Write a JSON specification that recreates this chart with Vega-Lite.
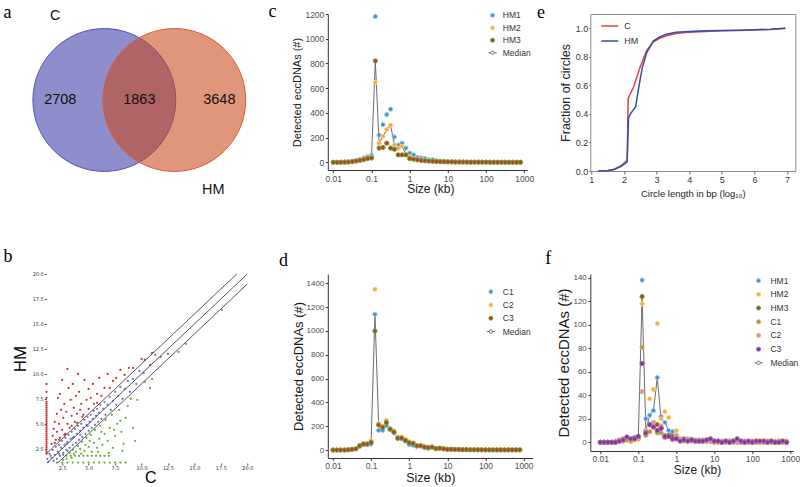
{
"$schema":"https://vega.github.io/schema/vega-lite/v6.json",
"background":"white",
"padding":{"left":3.3,"top":3,"right":0,"bottom":0},
"columns":3,
"align":"each",
"bounds":"flush",
"spacing":{"row":103,"column":57.5},
"resolve":{"scale":{"fill":"independent","stroke":"independent","shape":"independent","color":"independent"},"legend":{"fill":"independent","stroke":"independent","shape":"independent","color":"independent"}},
"config":{"view":{"stroke":null},"axis":{"grid":false,"labelOverlap":false,"labelFlush":false},"font":"Liberation Sans","title":{"font":"Liberation Serif","fontSize":18,"fontWeight":"normal","anchor":"start","frame":"group","offset":0,"baseline":"alphabetic","color":"#000000"}},
"concat":[
{
"width":224,"height":155,
"title":{"text":"a","dx":-42.7,"dy":18.25},
"layer":[
{"data":{"values":[{"set":"C","cx":0,"cy":0},{"set":"HM","cx":1,"cy":0}]},
"mark":{"type":"point","shape":"circle","filled":true,"size":20400,"fillOpacity":0.57,"strokeWidth":1,"strokeOpacity":1,"opacity":1},
"encoding":{"x":{"field":"cx","type":"quantitative","scale":{"domain":[-0.829,2.371],"nice":false,"zero":false},"axis":null},
"y":{"field":"cy","type":"quantitative","scale":{"domain":[-0.9857,1.2286],"nice":false,"zero":false},"axis":null},
"fill":{"field":"set","type":"nominal","scale":{"domain":["C","HM"],"range":["#3939A6","#C94716"]},"legend":null},
"stroke":{"field":"set","type":"nominal","scale":{"domain":["C","HM"],"range":["#5050B8","#DC5A34"]},"legend":null}}},
{"data":{"values":[{"t":"2708","cx":-0.629,"cy":0},{"t":"1863","cx":0.5,"cy":0},{"t":"3648","cx":1.643,"cy":0},{"t":"C","cx":-0.7,"cy":1.2},{"t":"HM","cx":1.557,"cy":-1.286}]},
"mark":{"type":"text","font":"Liberation Sans","fontSize":14.5,"color":"#111111"},
"encoding":{"x":{"field":"cx","type":"quantitative"},"y":{"field":"cy","type":"quantitative"},"text":{"field":"t","type":"nominal"}}}
]
},
{
"width":199.5,"height":156,
"title":{"text":"c","dx":-59.2,"dy":15.25},
"data":{"values":[
{"k":0.01,"s":"HM1","v":0},{"k":0.0126,"s":"HM1","v":0},{"k":0.0158,"s":"HM1","v":1},{"k":0.02,"s":"HM1","v":2},{"k":0.0251,"s":"HM1","v":4},{"k":0.0316,"s":"HM1","v":8},{"k":0.0398,"s":"HM1","v":15},{"k":0.0501,"s":"HM1","v":25},{"k":0.0631,"s":"HM1","v":35},{"k":0.0794,"s":"HM1","v":45},
{"k":0.1,"s":"HM1","v":55},{"k":0.126,"s":"HM1","v":1180},{"k":0.158,"s":"HM1","v":220},{"k":0.2,"s":"HM1","v":305},{"k":0.251,"s":"HM1","v":385},{"k":0.316,"s":"HM1","v":430},{"k":0.398,"s":"HM1","v":205},{"k":0.501,"s":"HM1","v":140},{"k":0.631,"s":"HM1","v":155},{"k":0.794,"s":"HM1","v":115},
{"k":1,"s":"HM1","v":75},{"k":1.26,"s":"HM1","v":60},{"k":1.58,"s":"HM1","v":40},{"k":2,"s":"HM1","v":35},{"k":2.51,"s":"HM1","v":30},{"k":3.16,"s":"HM1","v":20},{"k":3.98,"s":"HM1","v":22},{"k":5.01,"s":"HM1","v":12},{"k":6.31,"s":"HM1","v":10},{"k":7.94,"s":"HM1","v":8},
{"k":10,"s":"HM1","v":6},{"k":12.6,"s":"HM1","v":5},{"k":15.8,"s":"HM1","v":4},{"k":20,"s":"HM1","v":4},{"k":25.1,"s":"HM1","v":3},{"k":31.6,"s":"HM1","v":3},{"k":39.8,"s":"HM1","v":2},{"k":50.1,"s":"HM1","v":2},{"k":63.1,"s":"HM1","v":2},{"k":79.4,"s":"HM1","v":2},
{"k":100,"s":"HM1","v":2},{"k":126,"s":"HM1","v":1},{"k":158,"s":"HM1","v":1},{"k":200,"s":"HM1","v":1},{"k":251,"s":"HM1","v":1},{"k":316,"s":"HM1","v":1},{"k":398,"s":"HM1","v":1},{"k":501,"s":"HM1","v":1},{"k":631,"s":"HM1","v":1},{"k":794,"s":"HM1","v":1},
{"k":0.01,"s":"HM2","v":0},{"k":0.0126,"s":"HM2","v":0},{"k":0.0158,"s":"HM2","v":0},{"k":0.02,"s":"HM2","v":1},{"k":0.0251,"s":"HM2","v":3},{"k":0.0316,"s":"HM2","v":6},{"k":0.0398,"s":"HM2","v":10},{"k":0.0501,"s":"HM2","v":18},{"k":0.0631,"s":"HM2","v":25},{"k":0.0794,"s":"HM2","v":35},
{"k":0.1,"s":"HM2","v":40},{"k":0.126,"s":"HM2","v":645},{"k":0.158,"s":"HM2","v":155},{"k":0.2,"s":"HM2","v":210},{"k":0.251,"s":"HM2","v":265},{"k":0.316,"s":"HM2","v":300},{"k":0.398,"s":"HM2","v":140},{"k":0.501,"s":"HM2","v":115},{"k":0.631,"s":"HM2","v":130},{"k":0.794,"s":"HM2","v":65},
{"k":1,"s":"HM2","v":45},{"k":1.26,"s":"HM2","v":30},{"k":1.58,"s":"HM2","v":25},{"k":2,"s":"HM2","v":20},{"k":2.51,"s":"HM2","v":15},{"k":3.16,"s":"HM2","v":12},{"k":3.98,"s":"HM2","v":10},{"k":5.01,"s":"HM2","v":8},{"k":6.31,"s":"HM2","v":6},{"k":7.94,"s":"HM2","v":5},
{"k":10,"s":"HM2","v":4},{"k":12.6,"s":"HM2","v":3},{"k":15.8,"s":"HM2","v":3},{"k":20,"s":"HM2","v":2},{"k":25.1,"s":"HM2","v":2},{"k":31.6,"s":"HM2","v":2},{"k":39.8,"s":"HM2","v":1},{"k":50.1,"s":"HM2","v":1},{"k":63.1,"s":"HM2","v":1},{"k":79.4,"s":"HM2","v":1},
{"k":100,"s":"HM2","v":1},{"k":126,"s":"HM2","v":1},{"k":158,"s":"HM2","v":1},{"k":200,"s":"HM2","v":1},{"k":251,"s":"HM2","v":0},{"k":316,"s":"HM2","v":0},{"k":398,"s":"HM2","v":0},{"k":501,"s":"HM2","v":0},{"k":631,"s":"HM2","v":0},{"k":794,"s":"HM2","v":0},
{"k":0.01,"s":"HM3","v":0},{"k":0.0126,"s":"HM3","v":0},{"k":0.0158,"s":"HM3","v":0},{"k":0.02,"s":"HM3","v":1},{"k":0.0251,"s":"HM3","v":2},{"k":0.0316,"s":"HM3","v":5},{"k":0.0398,"s":"HM3","v":10},{"k":0.0501,"s":"HM3","v":15},{"k":0.0631,"s":"HM3","v":22},{"k":0.0794,"s":"HM3","v":30},
{"k":0.1,"s":"HM3","v":35},{"k":0.126,"s":"HM3","v":820},{"k":0.158,"s":"HM3","v":115},{"k":0.2,"s":"HM3","v":120},{"k":0.251,"s":"HM3","v":155},{"k":0.316,"s":"HM3","v":115},{"k":0.398,"s":"HM3","v":105},{"k":0.501,"s":"HM3","v":60},{"k":0.631,"s":"HM3","v":60},{"k":0.794,"s":"HM3","v":60},
{"k":1,"s":"HM3","v":30},{"k":1.26,"s":"HM3","v":25},{"k":1.58,"s":"HM3","v":20},{"k":2,"s":"HM3","v":15},{"k":2.51,"s":"HM3","v":12},{"k":3.16,"s":"HM3","v":10},{"k":3.98,"s":"HM3","v":8},{"k":5.01,"s":"HM3","v":6},{"k":6.31,"s":"HM3","v":5},{"k":7.94,"s":"HM3","v":4},
{"k":10,"s":"HM3","v":3},{"k":12.6,"s":"HM3","v":3},{"k":15.8,"s":"HM3","v":2},{"k":20,"s":"HM3","v":2},{"k":25.1,"s":"HM3","v":2},{"k":31.6,"s":"HM3","v":1},{"k":39.8,"s":"HM3","v":1},{"k":50.1,"s":"HM3","v":1},{"k":63.1,"s":"HM3","v":1},{"k":79.4,"s":"HM3","v":1},
{"k":100,"s":"HM3","v":1},{"k":126,"s":"HM3","v":0},{"k":158,"s":"HM3","v":0},{"k":200,"s":"HM3","v":0},{"k":251,"s":"HM3","v":0},{"k":316,"s":"HM3","v":0},{"k":398,"s":"HM3","v":0},{"k":501,"s":"HM3","v":0},{"k":631,"s":"HM3","v":0},{"k":794,"s":"HM3","v":0}
]},
"encoding":{"x":{"field":"k","type":"quantitative","scale":{"type":"log","domain":[0.00718,1199],"nice":false},"axis":{"values":[0.01,0.1,1,10,100,1000],"format":"~g","domainColor":"#333333","tickColor":"#333333","tickSize":2.5,"labelFont":"Liberation Sans","labelFontSize":8.5,"labelColor":"#4D4D4D","labelPadding":1.5,"labelFlush":false,"labelOverlap":false,"title":"Size (kb)","titleFont":"Liberation Sans","titleFontSize":12,"titleFontWeight":"normal","titleColor":"#1A1A1A","titlePadding":1,"titleX":102.5}},
"y":{"field":"v","type":"quantitative","scale":{"domain":[-62.3,1200],"nice":false,"zero":false},"axis":{"values":[0,200,400,600,800,1000,1200],"format":"d","domainColor":"#333333","tickColor":"#333333","tickSize":2.5,"labelFont":"Liberation Sans","labelFontSize":8.5,"labelColor":"#4D4D4D","labelPadding":1.5,"labelOverlap":false,"title":"Detected eccDNAs (#)","titleFont":"Liberation Sans","titleFontSize":11,"titleFontWeight":"normal","titleColor":"#1A1A1A","titlePadding":2}}},
"layer":[
{"transform":[{"aggregate":[{"op":"median","field":"v","as":"v"}],"groupby":["k"]}],
"mark":{"type":"line","color":"#6b6b6b","strokeWidth":1}},
{"mark":{"type":"point","filled":true,"size":18,"strokeWidth":1,"opacity":1},
"encoding":{
"fill":{"field":"s","type":"nominal","scale":{"domain":["HM1","HM2","HM3","Median"],"range":["#3D8FD1","#F6A83A","#D62F1F","#FFFFFF"]},"legend":{"title":null,"orient":"none","legendX":160.5,"legendY":-3,"padding":0,"symbolSize":16,"symbolStrokeWidth":1,"symbolOpacity":1,"labelFont":"Liberation Sans","labelFontSize":8.5,"labelColor":"#333333","labelOffset":6,"rowPadding":3.5}},
"stroke":{"field":"s","type":"nominal","scale":{"domain":["HM1","HM2","HM3","Median"],"range":["#9BC8EC","#FBD08A","#52AC3C","#666666"]},"legend":{"title":null,"orient":"none","legendX":160.5,"legendY":-3,"padding":0,"symbolSize":16,"symbolStrokeWidth":1,"symbolOpacity":1,"labelFont":"Liberation Sans","labelFontSize":8.5,"labelColor":"#333333","labelOffset":6,"rowPadding":3.5}},
"shape":{"field":"s","type":"nominal","scale":{"domain":["HM1","HM2","HM3","Median"],"range":["circle","circle","circle","M-2,0L-0.85,0M0.85,0L2,0M0.85,0A0.85,0.85 0 1 1 -0.85,0A0.85,0.85 0 1 1 0.85,0"]},"legend":{"title":null,"orient":"none","legendX":160.5,"legendY":-3,"padding":0,"symbolSize":16,"symbolStrokeWidth":1,"symbolOpacity":1,"labelFont":"Liberation Sans","labelFontSize":8.5,"labelColor":"#333333","labelOffset":6,"rowPadding":3.5}}}}
]
},
{
"width":205,"height":157,
"view":{"stroke":"#8c8c8c","strokeWidth":1},
"title":{"text":"e","dx":-53.3,"dy":11.5},
"data":{"values":[
{"g":"C","L":1.22,"f":0},{"g":"C","L":1.5,"f":0.003},{"g":"C","L":1.7,"f":0.012},{"g":"C","L":1.9,"f":0.035},{"g":"C","L":2.05,"f":0.065},{"g":"C","L":2.1,"f":0.08},{"g":"C","L":2.13,"f":0.51},{"g":"C","L":2.3,"f":0.59},{"g":"C","L":2.5,"f":0.73},{"g":"C","L":2.7,"f":0.845},{"g":"C","L":2.9,"f":0.905},{"g":"C","L":3.1,"f":0.93},{"g":"C","L":3.3,"f":0.948},{"g":"C","L":3.6,"f":0.963},{"g":"C","L":4,"f":0.973},{"g":"C","L":4.5,"f":0.978},{"g":"C","L":5,"f":0.983},{"g":"C","L":5.5,"f":0.985},{"g":"C","L":6,"f":0.988},{"g":"C","L":6.5,"f":0.992},{"g":"C","L":6.95,"f":1.0},
{"g":"HM","L":1.22,"f":0},{"g":"HM","L":1.5,"f":0.002},{"g":"HM","L":1.7,"f":0.01},{"g":"HM","L":1.9,"f":0.03},{"g":"HM","L":2.05,"f":0.055},{"g":"HM","L":2.1,"f":0.065},{"g":"HM","L":2.14,"f":0.37},{"g":"HM","L":2.2,"f":0.4},{"g":"HM","L":2.36,"f":0.45},{"g":"HM","L":2.45,"f":0.58},{"g":"HM","L":2.56,"f":0.72},{"g":"HM","L":2.7,"f":0.83},{"g":"HM","L":2.9,"f":0.91},{"g":"HM","L":3.1,"f":0.94},{"g":"HM","L":3.3,"f":0.958},{"g":"HM","L":3.6,"f":0.972},{"g":"HM","L":4,"f":0.978},{"g":"HM","L":4.5,"f":0.982},{"g":"HM","L":5,"f":0.985},{"g":"HM","L":5.5,"f":0.987},{"g":"HM","L":6,"f":0.99},{"g":"HM","L":6.5,"f":0.994},{"g":"HM","L":6.95,"f":1.0}
]},
"mark":{"type":"line","strokeWidth":1.5},
"encoding":{"x":{"field":"L","type":"quantitative","scale":{"domain":[0.969,7.254],"nice":false,"zero":false},"axis":{"values":[1,2,3,4,5,6,7],"format":"d","domain":false,"tickColor":"#666666","tickSize":3,"labelFont":"Liberation Sans","labelFontSize":9,"labelColor":"#333333","labelPadding":1.5,"labelFlush":false,"title":"Circle length in bp (log₁₀)","titleFont":"Liberation Sans","titleFontSize":9.5,"titleFontWeight":"normal","titleColor":"#222222","titlePadding":4}},
"y":{"field":"f","type":"quantitative","scale":{"domain":[0,1.1],"nice":false,"zero":false},"axis":{"values":[0,0.2,0.4,0.6,0.8,1],"format":".1f","domain":false,"tickColor":"#666666","tickSize":1.5,"labelFont":"Liberation Sans","labelFontSize":9,"labelColor":"#333333","labelPadding":1,"title":"Fraction of circles","titleFont":"Liberation Sans","titleFontSize":12.5,"titleFontWeight":"normal","titleColor":"#222222","titlePadding":3}},
"color":{"field":"g","type":"nominal","scale":{"domain":["C","HM"],"range":["#E8413A","#2E4FB5"]},"legend":{"title":null,"orient":"none","legendX":10,"legendY":2.5,"padding":0,"symbolType":"stroke","symbolSize":289,"symbolStrokeWidth":1.5,"labelFont":"Liberation Sans","labelFontSize":9,"labelColor":"#333333","labelOffset":5,"rowPadding":0}}}
},
{
"width":224,"height":189,
"title":{"text":"b","dx":-42.7,"dy":-2.4},
"encoding":{"x":{"field":"x","type":"quantitative","scale":{"domain":[1,22.17],"nice":false,"zero":false},"axis":{"values":[2.5,5,7.5,10,12.5,15,17.5,20],"format":".1f","domain":false,"tickColor":"#444444","tickSize":2,"labelFont":"DejaVu Sans","labelFontSize":5,"labelColor":"#333333","labelPadding":1,"labelFlush":false,"labelOverlap":false,"title":"C","titleFont":"Liberation Sans","titleFontSize":16,"titleFontWeight":"normal","titleColor":"#000000","titleX":104,"titlePadding":-1}},
"y":{"field":"y","type":"quantitative","scale":{"domain":[1.08,20],"nice":false,"zero":false},"axis":{"values":[2.5,5,7.5,10,12.5,15,17.5,20],"format":".1f","domain":false,"tickColor":"#444444","tickSize":2,"labelFont":"DejaVu Sans","labelFontSize":5,"labelColor":"#333333","labelPadding":1,"labelOverlap":false,"title":"HM","titleFont":"Liberation Sans","titleFontSize":17,"titleFontWeight":"normal","titleColor":"#000000","titleY":84.5,"titlePadding":3}}},
"layer":[
{"data":{"values":[{}]},"mark":{"type":"rect","filled":false,"color":"#666666","strokeWidth":1},
"encoding":{"x":{"datum":1,"type":"quantitative"},"x2":{"datum":20},"y":{"datum":1.08,"type":"quantitative"},"y2":{"datum":20}}},
{"data":{"values":[
{"x":1.02,"y":2.0,"g":"u"},{"x":1.02,"y":2.2,"g":"u"},{"x":1.02,"y":2.4,"g":"u"},{"x":1.02,"y":2.6,"g":"u"},{"x":1.02,"y":2.8,"g":"u"},{"x":1.02,"y":3.0,"g":"u"},{"x":1.02,"y":3.2,"g":"u"},{"x":1.02,"y":3.4,"g":"u"},{"x":1.02,"y":3.6,"g":"u"},{"x":1.02,"y":3.8,"g":"u"},{"x":1.02,"y":4.0,"g":"u"},{"x":1.02,"y":4.2,"g":"u"},{"x":1.02,"y":4.4,"g":"u"},{"x":1.02,"y":4.6,"g":"u"},{"x":1.02,"y":4.8,"g":"u"},{"x":1.02,"y":5.0,"g":"u"},{"x":1.02,"y":5.2,"g":"u"},{"x":1.02,"y":5.4,"g":"u"},{"x":1.02,"y":5.6,"g":"u"},{"x":1.02,"y":5.8,"g":"u"},{"x":1.02,"y":6.0,"g":"u"},{"x":1.02,"y":6.2,"g":"u"},{"x":1.02,"y":6.4,"g":"u"},{"x":1.02,"y":6.6,"g":"u"},{"x":1.02,"y":6.8,"g":"u"},{"x":1.02,"y":7.0,"g":"u"},{"x":1.02,"y":7.2,"g":"u"},{"x":1.02,"y":7.6,"g":"u"},{"x":1.02,"y":8.2,"g":"u"},{"x":1.02,"y":9.0,"g":"u"},
{"x":1.5,"y":3.0,"g":"u"},{"x":1.6,"y":3.8,"g":"u"},{"x":1.7,"y":4.5,"g":"u"},{"x":1.8,"y":5.2,"g":"u"},{"x":1.9,"y":3.4,"g":"u"},{"x":2.0,"y":6.0,"g":"u"},{"x":2.0,"y":4.2,"g":"u"},{"x":2.1,"y":7.6,"g":"u"},{"x":2.2,"y":5.0,"g":"u"},{"x":2.3,"y":3.6,"g":"u"},{"x":2.3,"y":8.0,"g":"u"},{"x":2.4,"y":6.4,"g":"u"},{"x":2.5,"y":4.4,"g":"u"},{"x":2.5,"y":9.4,"g":"u"},{"x":2.6,"y":5.6,"g":"u"},{"x":2.7,"y":7.0,"g":"u"},{"x":2.8,"y":4.0,"g":"u"},{"x":2.9,"y":6.2,"g":"u"},{"x":3.0,"y":10.5,"g":"u"},{"x":3.0,"y":5.0,"g":"u"},{"x":3.1,"y":8.6,"g":"u"},{"x":3.2,"y":4.6,"g":"u"},{"x":3.3,"y":7.4,"g":"u"},{"x":3.4,"y":5.8,"g":"u"},{"x":3.5,"y":9.0,"g":"u"},{"x":3.6,"y":6.6,"g":"u"},{"x":3.7,"y":5.2,"g":"u"},{"x":3.8,"y":7.8,"g":"u"},{"x":3.9,"y":6.0,"g":"u"},{"x":4.0,"y":10.0,"g":"u"},{"x":4.1,"y":8.2,"g":"u"},{"x":4.2,"y":6.4,"g":"u"},{"x":4.3,"y":7.0,"g":"u"},{"x":4.5,"y":5.9,"g":"u"},{"x":4.6,"y":9.4,"g":"u"},{"x":4.8,"y":7.4,"g":"u"},{"x":5.0,"y":8.5,"g":"u"},{"x":5.0,"y":6.5,"g":"u"},{"x":5.2,"y":7.6,"g":"u"},{"x":5.4,"y":9.0,"g":"u"},{"x":5.5,"y":7.0,"g":"u"},{"x":5.8,"y":8.0,"g":"u"},{"x":6.0,"y":9.6,"g":"u"},{"x":6.2,"y":7.8,"g":"u"},{"x":6.5,"y":8.6,"g":"u"},{"x":6.8,"y":10.0,"g":"u"},{"x":7.0,"y":8.6,"g":"u"},{"x":7.3,"y":9.3,"g":"u"},{"x":7.6,"y":9.6,"g":"u"},{"x":8.0,"y":10.4,"g":"u"},{"x":8.4,"y":9.9,"g":"u"},{"x":8.8,"y":10.6,"g":"u"},{"x":9.2,"y":10.6,"g":"u"},{"x":10.0,"y":11.5,"g":"u"},{"x":10.3,"y":11.4,"g":"u"},{"x":11.0,"y":12.1,"g":"u"},{"x":3.4,"y":4.8,"g":"u"},{"x":2.7,"y":3.9,"g":"u"},{"x":4.4,"y":5.7,"g":"u"},{"x":1.8,"y":3.1,"g":"u"},{"x":2.2,"y":3.4,"g":"u"},{"x":3.9,"y":5.1,"g":"u"},{"x":5.8,"y":7.1,"g":"u"},
{"x":1.1,"y":1.5,"g":"s"},{"x":1.3,"y":2.0,"g":"s"},{"x":1.5,"y":1.6,"g":"s"},{"x":1.6,"y":2.4,"g":"s"},{"x":1.8,"y":1.9,"g":"s"},{"x":1.9,"y":2.7,"g":"s"},{"x":2.0,"y":1.5,"g":"s"},{"x":2.1,"y":2.2,"g":"s"},{"x":2.2,"y":2.9,"g":"s"},{"x":2.3,"y":1.8,"g":"s"},{"x":2.4,"y":2.6,"g":"s"},{"x":2.5,"y":3.3,"g":"s"},{"x":2.6,"y":2.1,"g":"s"},{"x":2.7,"y":2.9,"g":"s"},{"x":2.8,"y":3.6,"g":"s"},{"x":2.9,"y":2.4,"g":"s"},{"x":3.0,"y":3.2,"g":"s"},{"x":3.1,"y":3.9,"g":"s"},{"x":3.2,"y":2.6,"g":"s"},{"x":3.3,"y":3.5,"g":"s"},{"x":3.4,"y":4.2,"g":"s"},{"x":3.5,"y":2.9,"g":"s"},{"x":3.6,"y":3.7,"g":"s"},{"x":3.7,"y":4.5,"g":"s"},{"x":3.8,"y":3.1,"g":"s"},{"x":3.9,"y":4.0,"g":"s"},{"x":4.0,"y":4.8,"g":"s"},{"x":4.1,"y":3.4,"g":"s"},{"x":4.2,"y":4.3,"g":"s"},{"x":4.3,"y":5.0,"g":"s"},{"x":4.4,"y":3.7,"g":"s"},{"x":4.5,"y":4.6,"g":"s"},{"x":4.6,"y":5.4,"g":"s"},{"x":4.7,"y":4.0,"g":"s"},{"x":4.8,"y":4.9,"g":"s"},{"x":4.9,"y":5.7,"g":"s"},{"x":5.0,"y":4.3,"g":"s"},{"x":5.1,"y":5.2,"g":"s"},{"x":5.2,"y":5.9,"g":"s"},{"x":5.3,"y":4.6,"g":"s"},{"x":5.4,"y":5.5,"g":"s"},{"x":5.5,"y":6.3,"g":"s"},{"x":5.6,"y":4.9,"g":"s"},{"x":5.7,"y":5.8,"g":"s"},{"x":5.8,"y":6.5,"g":"s"},{"x":5.9,"y":5.2,"g":"s"},{"x":6.0,"y":6.1,"g":"s"},{"x":6.1,"y":6.9,"g":"s"},{"x":6.2,"y":5.5,"g":"s"},{"x":6.4,"y":6.5,"g":"s"},{"x":6.5,"y":7.2,"g":"s"},{"x":6.6,"y":5.9,"g":"s"},{"x":6.8,"y":6.9,"g":"s"},{"x":7.0,"y":7.7,"g":"s"},{"x":7.1,"y":6.4,"g":"s"},{"x":7.3,"y":7.3,"g":"s"},{"x":7.5,"y":8.2,"g":"s"},{"x":7.6,"y":6.9,"g":"s"},{"x":7.8,"y":7.8,"g":"s"},{"x":8.0,"y":8.7,"g":"s"},{"x":8.2,"y":7.5,"g":"s"},{"x":8.4,"y":8.5,"g":"s"},{"x":8.7,"y":9.3,"g":"s"},{"x":8.9,"y":8.2,"g":"s"},{"x":9.2,"y":9.5,"g":"s"},{"x":9.5,"y":9.0,"g":"s"},{"x":9.8,"y":10.3,"g":"s"},{"x":10.2,"y":10.1,"g":"s"},{"x":10.8,"y":10.9,"g":"s"},{"x":11.3,"y":11.9,"g":"s"},{"x":11.8,"y":11.7,"g":"s"},{"x":12.5,"y":12.0,"g":"s"},{"x":1.2,"y":1.2,"g":"s"},{"x":1.7,"y":1.3,"g":"s"},{"x":2.2,"y":2.0,"g":"s"},{"x":2.9,"y":3.0,"g":"s"},{"x":3.5,"y":3.6,"g":"s"},{"x":4.2,"y":3.9,"g":"s"},{"x":4.9,"y":4.8,"g":"s"},{"x":3.0,"y":2.3,"g":"s"},{"x":2.6,"y":1.9,"g":"s"},{"x":1.4,"y":1.8,"g":"s"},
{"x":2.0,"y":1.12,"g":"d"},{"x":2.5,"y":1.12,"g":"d"},{"x":3.0,"y":1.12,"g":"d"},{"x":3.5,"y":1.12,"g":"d"},{"x":4.0,"y":1.12,"g":"d"},{"x":4.5,"y":1.12,"g":"d"},{"x":5.0,"y":1.12,"g":"d"},{"x":5.5,"y":1.12,"g":"d"},{"x":6.0,"y":1.12,"g":"d"},{"x":6.5,"y":1.12,"g":"d"},{"x":7.0,"y":1.12,"g":"d"},{"x":7.5,"y":1.12,"g":"d"},{"x":8.0,"y":1.12,"g":"d"},{"x":8.5,"y":1.12,"g":"d"},
{"x":2.9,"y":1.8,"g":"d"},{"x":3.3,"y":1.8,"g":"d"},{"x":3.7,"y":1.8,"g":"d"},{"x":4.1,"y":1.8,"g":"d"},{"x":4.5,"y":1.8,"g":"d"},{"x":4.9,"y":1.8,"g":"d"},{"x":5.3,"y":1.8,"g":"d"},{"x":5.7,"y":1.8,"g":"d"},{"x":6.1,"y":1.8,"g":"d"},{"x":6.5,"y":1.8,"g":"d"},{"x":6.9,"y":1.8,"g":"d"},
{"x":3.2,"y":2.1,"g":"d"},{"x":3.5,"y":2.4,"g":"d"},{"x":3.8,"y":2.2,"g":"d"},{"x":4.0,"y":2.8,"g":"d"},{"x":4.2,"y":2.5,"g":"d"},{"x":4.4,"y":3.2,"g":"d"},{"x":4.6,"y":2.3,"g":"d"},{"x":4.8,"y":3.6,"g":"d"},{"x":5.0,"y":2.7,"g":"d"},{"x":5.2,"y":3.9,"g":"d"},{"x":5.3,"y":2.2,"g":"d"},{"x":5.5,"y":3.1,"g":"d"},{"x":5.6,"y":4.4,"g":"d"},{"x":5.8,"y":2.6,"g":"d"},{"x":6.0,"y":3.5,"g":"d"},{"x":6.1,"y":4.8,"g":"d"},{"x":6.3,"y":2.9,"g":"d"},{"x":6.5,"y":4.0,"g":"d"},{"x":6.6,"y":5.4,"g":"d"},{"x":6.8,"y":3.3,"g":"d"},{"x":7.0,"y":4.6,"g":"d"},{"x":7.2,"y":5.9,"g":"d"},{"x":7.3,"y":2.6,"g":"d"},{"x":7.5,"y":3.8,"g":"d"},{"x":7.7,"y":5.0,"g":"d"},{"x":7.9,"y":6.4,"g":"d"},{"x":8.1,"y":4.2,"g":"d"},{"x":8.3,"y":3.0,"g":"d"},{"x":8.5,"y":5.6,"g":"d"},{"x":8.7,"y":6.8,"g":"d"},{"x":8.2,"y":2.3,"g":"d"},{"x":9.0,"y":7.5,"g":"d"},{"x":9.2,"y":4.6,"g":"d"},{"x":9.4,"y":3.3,"g":"d"},{"x":9.6,"y":7.4,"g":"d"},{"x":10.3,"y":9.2,"g":"d"},{"x":10.8,"y":8.6,"g":"d"},{"x":11.0,"y":9.5,"g":"d"},{"x":13.5,"y":12.2,"g":"d"},{"x":14.2,"y":13.0,"g":"d"},{"x":17.6,"y":16.4,"g":"d"},{"x":3.6,"y":2.0,"g":"d"},{"x":4.3,"y":2.0,"g":"d"},{"x":5.9,"y":2.2,"g":"d"},{"x":6.9,"y":2.1,"g":"d"},{"x":5.1,"y":3.3,"g":"d"},{"x":4.7,"y":2.9,"g":"d"},{"x":6.2,"y":4.2,"g":"d"},{"x":7.4,"y":4.4,"g":"d"},{"x":8.0,"y":5.3,"g":"d"},{"x":2.9,"y":1.5,"g":"d"},{"x":3.4,"y":1.6,"g":"d"},{"x":2.6,"y":1.4,"g":"d"}
]},
"mark":{"type":"circle","size":5,"opacity":1},
"encoding":{"color":{"field":"g","type":"nominal","scale":{"domain":["u","s","d"],"range":["#CC2F2F","#7070C4","#6EA833"]},"legend":null}}},
{"data":{"values":[{"k":"u","x":1,"y":2},{"k":"u","x":19,"y":20},{"k":"m","x":1.08,"y":1.08},{"k":"m","x":20,"y":20},{"k":"l","x":2.08,"y":1.08},{"k":"l","x":20,"y":19}]},
"mark":{"type":"line","color":"#555555","strokeWidth":1},
"encoding":{"detail":{"field":"k","type":"nominal"}}}
]
},
{
"width":205,"height":184,
"title":{"text":"d","dx":-48.7,"dy":0},
"data":{"values":[
{"k":0.01,"s":"C1","v":0},{"k":0.0126,"s":"C1","v":0},{"k":0.0158,"s":"C1","v":0},{"k":0.02,"s":"C1","v":0},{"k":0.0251,"s":"C1","v":2},{"k":0.0316,"s":"C1","v":5},{"k":0.0398,"s":"C1","v":10},{"k":0.0501,"s":"C1","v":30},{"k":0.0631,"s":"C1","v":45},{"k":0.0794,"s":"C1","v":45},
{"k":0.1,"s":"C1","v":50},{"k":0.126,"s":"C1","v":1140},{"k":0.158,"s":"C1","v":165},{"k":0.2,"s":"C1","v":165},{"k":0.251,"s":"C1","v":205},{"k":0.316,"s":"C1","v":170},{"k":0.398,"s":"C1","v":145},{"k":0.501,"s":"C1","v":95},{"k":0.631,"s":"C1","v":95},{"k":0.794,"s":"C1","v":75},
{"k":1,"s":"C1","v":45},{"k":1.26,"s":"C1","v":40},{"k":1.58,"s":"C1","v":30},{"k":2,"s":"C1","v":35},{"k":2.51,"s":"C1","v":20},{"k":3.16,"s":"C1","v":15},{"k":3.98,"s":"C1","v":25},{"k":5.01,"s":"C1","v":10},{"k":6.31,"s":"C1","v":15},{"k":7.94,"s":"C1","v":10},
{"k":10,"s":"C1","v":5},{"k":12.6,"s":"C1","v":5},{"k":15.8,"s":"C1","v":5},{"k":20,"s":"C1","v":4},{"k":25.1,"s":"C1","v":3},{"k":31.6,"s":"C1","v":3},{"k":39.8,"s":"C1","v":2},{"k":50.1,"s":"C1","v":2},{"k":63.1,"s":"C1","v":2},{"k":79.4,"s":"C1","v":2},
{"k":100,"s":"C1","v":1},{"k":126,"s":"C1","v":1},{"k":158,"s":"C1","v":1},{"k":200,"s":"C1","v":1},{"k":251,"s":"C1","v":1},{"k":316,"s":"C1","v":1},{"k":398,"s":"C1","v":1},{"k":501,"s":"C1","v":1},{"k":631,"s":"C1","v":1},{"k":794,"s":"C1","v":1},
{"k":0.01,"s":"C2","v":0},{"k":0.0126,"s":"C2","v":0},{"k":0.0158,"s":"C2","v":0},{"k":0.02,"s":"C2","v":1},{"k":0.0251,"s":"C2","v":3},{"k":0.0316,"s":"C2","v":6},{"k":0.0398,"s":"C2","v":12},{"k":0.0501,"s":"C2","v":38},{"k":0.0631,"s":"C2","v":55},{"k":0.0794,"s":"C2","v":55},
{"k":0.1,"s":"C2","v":80},{"k":0.126,"s":"C2","v":1350},{"k":0.158,"s":"C2","v":225},{"k":0.2,"s":"C2","v":200},{"k":0.251,"s":"C2","v":250},{"k":0.316,"s":"C2","v":180},{"k":0.398,"s":"C2","v":160},{"k":0.501,"s":"C2","v":110},{"k":0.631,"s":"C2","v":110},{"k":0.794,"s":"C2","v":90},
{"k":1,"s":"C2","v":70},{"k":1.26,"s":"C2","v":60},{"k":1.58,"s":"C2","v":40},{"k":2,"s":"C2","v":40},{"k":2.51,"s":"C2","v":30},{"k":3.16,"s":"C2","v":25},{"k":3.98,"s":"C2","v":25},{"k":5.01,"s":"C2","v":15},{"k":6.31,"s":"C2","v":15},{"k":7.94,"s":"C2","v":12},
{"k":10,"s":"C2","v":8},{"k":12.6,"s":"C2","v":8},{"k":15.8,"s":"C2","v":6},{"k":20,"s":"C2","v":5},{"k":25.1,"s":"C2","v":4},{"k":31.6,"s":"C2","v":4},{"k":39.8,"s":"C2","v":3},{"k":50.1,"s":"C2","v":3},{"k":63.1,"s":"C2","v":2},{"k":79.4,"s":"C2","v":2},
{"k":100,"s":"C2","v":2},{"k":126,"s":"C2","v":2},{"k":158,"s":"C2","v":1},{"k":200,"s":"C2","v":1},{"k":251,"s":"C2","v":1},{"k":316,"s":"C2","v":1},{"k":398,"s":"C2","v":1},{"k":501,"s":"C2","v":1},{"k":631,"s":"C2","v":1},{"k":794,"s":"C2","v":1},
{"k":0.01,"s":"C3","v":0},{"k":0.0126,"s":"C3","v":0},{"k":0.0158,"s":"C3","v":0},{"k":0.02,"s":"C3","v":0},{"k":0.0251,"s":"C3","v":2},{"k":0.0316,"s":"C3","v":5},{"k":0.0398,"s":"C3","v":10},{"k":0.0501,"s":"C3","v":35},{"k":0.0631,"s":"C3","v":50},{"k":0.0794,"s":"C3","v":50},
{"k":0.1,"s":"C3","v":65},{"k":0.126,"s":"C3","v":1000},{"k":0.158,"s":"C3","v":210},{"k":0.2,"s":"C3","v":190},{"k":0.251,"s":"C3","v":230},{"k":0.316,"s":"C3","v":175},{"k":0.398,"s":"C3","v":150},{"k":0.501,"s":"C3","v":100},{"k":0.631,"s":"C3","v":100},{"k":0.794,"s":"C3","v":80},
{"k":1,"s":"C3","v":60},{"k":1.26,"s":"C3","v":55},{"k":1.58,"s":"C3","v":35},{"k":2,"s":"C3","v":35},{"k":2.51,"s":"C3","v":25},{"k":3.16,"s":"C3","v":20},{"k":3.98,"s":"C3","v":25},{"k":5.01,"s":"C3","v":12},{"k":6.31,"s":"C3","v":15},{"k":7.94,"s":"C3","v":10},
{"k":10,"s":"C3","v":5},{"k":12.6,"s":"C3","v":6},{"k":15.8,"s":"C3","v":5},{"k":20,"s":"C3","v":4},{"k":25.1,"s":"C3","v":3},{"k":31.6,"s":"C3","v":3},{"k":39.8,"s":"C3","v":2},{"k":50.1,"s":"C3","v":2},{"k":63.1,"s":"C3","v":2},{"k":79.4,"s":"C3","v":2},
{"k":100,"s":"C3","v":1},{"k":126,"s":"C3","v":1},{"k":158,"s":"C3","v":1},{"k":200,"s":"C3","v":1},{"k":251,"s":"C3","v":1},{"k":316,"s":"C3","v":1},{"k":398,"s":"C3","v":1},{"k":501,"s":"C3","v":1},{"k":631,"s":"C3","v":1},{"k":794,"s":"C3","v":1}
]},
"encoding":{"x":{"field":"k","type":"quantitative","scale":{"type":"log","domain":[0.00731,1742],"nice":false},"axis":{"values":[0.01,0.1,1,10,100,1000],"format":"~g","domainColor":"#333333","tickColor":"#333333","tickSize":2.5,"labelFont":"Liberation Sans","labelFontSize":8.5,"labelColor":"#4D4D4D","labelPadding":1.5,"labelFlush":false,"labelOverlap":false,"title":"Size (kb)","titleFont":"Liberation Sans","titleFontSize":12.5,"titleFontWeight":"normal","titleColor":"#1A1A1A","titlePadding":1,"titleX":102.5}},
"y":{"field":"v","type":"quantitative","scale":{"domain":[-67,1478],"nice":false,"zero":false},"axis":{"values":[0,200,400,600,800,1000,1200,1400],"format":"d","domainColor":"#333333","tickColor":"#333333","tickSize":2.5,"labelFont":"Liberation Sans","labelFontSize":8,"labelColor":"#4D4D4D","labelPadding":1.5,"labelOverlap":false,"title":"Detected eccDNAs (#)","titleFont":"Liberation Sans","titleFontSize":13,"titleFontWeight":"normal","titleColor":"#1A1A1A","titlePadding":1}}},
"layer":[
{"transform":[{"aggregate":[{"op":"median","field":"v","as":"v"}],"groupby":["k"]}],
"mark":{"type":"line","color":"#6b6b6b","strokeWidth":1}},
{"mark":{"type":"point","filled":true,"size":18,"strokeWidth":1,"opacity":1},
"encoding":{
"fill":{"field":"s","type":"nominal","scale":{"domain":["C1","C2","C3","Median"],"range":["#3D8FD1","#F6A83A","#D62F1F","#FFFFFF"]},"legend":{"title":null,"orient":"none","legendX":158.8,"legendY":13.4,"padding":0,"symbolSize":16,"symbolStrokeWidth":1,"symbolOpacity":1,"labelFont":"Liberation Sans","labelFontSize":8.5,"labelColor":"#333333","labelOffset":7.7,"rowPadding":4.3}},
"stroke":{"field":"s","type":"nominal","scale":{"domain":["C1","C2","C3","Median"],"range":["#9BC8EC","#FBD08A","#52AC3C","#666666"]},"legend":{"title":null,"orient":"none","legendX":158.8,"legendY":13.4,"padding":0,"symbolSize":16,"symbolStrokeWidth":1,"symbolOpacity":1,"labelFont":"Liberation Sans","labelFontSize":8.5,"labelColor":"#333333","labelOffset":7.7,"rowPadding":4.3}},
"shape":{"field":"s","type":"nominal","scale":{"domain":["C1","C2","C3","Median"],"range":["circle","circle","circle","M-2,0L-0.85,0M0.85,0L2,0M0.85,0A0.85,0.85 0 1 1 -0.85,0A0.85,0.85 0 1 1 0.85,0"]},"legend":{"title":null,"orient":"none","legendX":158.8,"legendY":13.4,"padding":0,"symbolSize":16,"symbolStrokeWidth":1,"symbolOpacity":1,"labelFont":"Liberation Sans","labelFontSize":8.5,"labelColor":"#333333","labelOffset":7.7,"rowPadding":4.3}}}}
]
},
{
"width":203,"height":177,
"title":{"text":"f","dx":-45,"dy":-2},
"data":{"values":[
{"k":0.01,"s":"HM1","v":0},{"k":0.0126,"s":"HM1","v":0},{"k":0.0158,"s":"HM1","v":0},{"k":0.02,"s":"HM1","v":0},{"k":0.0251,"s":"HM1","v":0},{"k":0.0316,"s":"HM1","v":1},{"k":0.0398,"s":"HM1","v":2},{"k":0.0501,"s":"HM1","v":3},{"k":0.0631,"s":"HM1","v":2},{"k":0.0794,"s":"HM1","v":3},
{"k":0.1,"s":"HM1","v":4},{"k":0.126,"s":"HM1","v":138},{"k":0.158,"s":"HM1","v":20},{"k":0.2,"s":"HM1","v":23},{"k":0.251,"s":"HM1","v":27},{"k":0.316,"s":"HM1","v":55},{"k":0.398,"s":"HM1","v":22},{"k":0.501,"s":"HM1","v":17},{"k":0.631,"s":"HM1","v":10},{"k":0.794,"s":"HM1","v":9},
{"k":1,"s":"HM1","v":5},{"k":1.26,"s":"HM1","v":3},{"k":1.58,"s":"HM1","v":2},{"k":2,"s":"HM1","v":3},{"k":2.51,"s":"HM1","v":2},{"k":3.16,"s":"HM1","v":2},{"k":3.98,"s":"HM1","v":1},{"k":5.01,"s":"HM1","v":2},{"k":6.31,"s":"HM1","v":1},{"k":7.94,"s":"HM1","v":2},
{"k":10,"s":"HM1","v":1},{"k":12.6,"s":"HM1","v":1},{"k":15.8,"s":"HM1","v":1},{"k":20,"s":"HM1","v":0},{"k":25.1,"s":"HM1","v":1},{"k":31.6,"s":"HM1","v":0},{"k":39.8,"s":"HM1","v":1},{"k":50.1,"s":"HM1","v":0},{"k":63.1,"s":"HM1","v":0},{"k":79.4,"s":"HM1","v":1},
{"k":100,"s":"HM1","v":0},{"k":126,"s":"HM1","v":1},{"k":158,"s":"HM1","v":0},{"k":200,"s":"HM1","v":1},{"k":251,"s":"HM1","v":0},{"k":316,"s":"HM1","v":0},{"k":398,"s":"HM1","v":0},{"k":501,"s":"HM1","v":1},{"k":631,"s":"HM1","v":0},{"k":794,"s":"HM1","v":0},
{"k":0.01,"s":"HM2","v":0},{"k":0.0126,"s":"HM2","v":0},{"k":0.0158,"s":"HM2","v":0},{"k":0.02,"s":"HM2","v":0},{"k":0.0251,"s":"HM2","v":0},{"k":0.0316,"s":"HM2","v":2},{"k":0.0398,"s":"HM2","v":3},{"k":0.0501,"s":"HM2","v":2},{"k":0.0631,"s":"HM2","v":1},{"k":0.0794,"s":"HM2","v":3},
{"k":0.1,"s":"HM2","v":3},{"k":0.126,"s":"HM2","v":118},{"k":0.158,"s":"HM2","v":10},{"k":0.2,"s":"HM2","v":37},{"k":0.251,"s":"HM2","v":45},{"k":0.316,"s":"HM2","v":101},{"k":0.398,"s":"HM2","v":20},{"k":0.501,"s":"HM2","v":26},{"k":0.631,"s":"HM2","v":21},{"k":0.794,"s":"HM2","v":5},
{"k":1,"s":"HM2","v":10},{"k":1.26,"s":"HM2","v":3},{"k":1.58,"s":"HM2","v":2},{"k":2,"s":"HM2","v":2},{"k":2.51,"s":"HM2","v":3},{"k":3.16,"s":"HM2","v":1},{"k":3.98,"s":"HM2","v":2},{"k":5.01,"s":"HM2","v":1},{"k":6.31,"s":"HM2","v":2},{"k":7.94,"s":"HM2","v":1},
{"k":10,"s":"HM2","v":1},{"k":12.6,"s":"HM2","v":0},{"k":15.8,"s":"HM2","v":1},{"k":20,"s":"HM2","v":1},{"k":25.1,"s":"HM2","v":0},{"k":31.6,"s":"HM2","v":1},{"k":39.8,"s":"HM2","v":0},{"k":50.1,"s":"HM2","v":1},{"k":63.1,"s":"HM2","v":0},{"k":79.4,"s":"HM2","v":0},
{"k":100,"s":"HM2","v":1},{"k":126,"s":"HM2","v":0},{"k":158,"s":"HM2","v":1},{"k":200,"s":"HM2","v":0},{"k":251,"s":"HM2","v":1},{"k":316,"s":"HM2","v":0},{"k":398,"s":"HM2","v":1},{"k":501,"s":"HM2","v":0},{"k":631,"s":"HM2","v":0},{"k":794,"s":"HM2","v":1},
{"k":0.01,"s":"HM3","v":0},{"k":0.0126,"s":"HM3","v":0},{"k":0.0158,"s":"HM3","v":0},{"k":0.02,"s":"HM3","v":0},{"k":0.0251,"s":"HM3","v":0},{"k":0.0316,"s":"HM3","v":1},{"k":0.0398,"s":"HM3","v":2},{"k":0.0501,"s":"HM3","v":3},{"k":0.0631,"s":"HM3","v":2},{"k":0.0794,"s":"HM3","v":4},
{"k":0.1,"s":"HM3","v":5},{"k":0.126,"s":"HM3","v":124},{"k":0.158,"s":"HM3","v":7},{"k":0.2,"s":"HM3","v":15},{"k":0.251,"s":"HM3","v":16},{"k":0.316,"s":"HM3","v":15},{"k":0.398,"s":"HM3","v":12},{"k":0.501,"s":"HM3","v":5},{"k":0.631,"s":"HM3","v":6},{"k":0.794,"s":"HM3","v":5},
{"k":1,"s":"HM3","v":5},{"k":1.26,"s":"HM3","v":2},{"k":1.58,"s":"HM3","v":3},{"k":2,"s":"HM3","v":2},{"k":2.51,"s":"HM3","v":2},{"k":3.16,"s":"HM3","v":1},{"k":3.98,"s":"HM3","v":1},{"k":5.01,"s":"HM3","v":1},{"k":6.31,"s":"HM3","v":1},{"k":7.94,"s":"HM3","v":1},
{"k":10,"s":"HM3","v":1},{"k":12.6,"s":"HM3","v":1},{"k":15.8,"s":"HM3","v":0},{"k":20,"s":"HM3","v":1},{"k":25.1,"s":"HM3","v":0},{"k":31.6,"s":"HM3","v":1},{"k":39.8,"s":"HM3","v":0},{"k":50.1,"s":"HM3","v":0},{"k":63.1,"s":"HM3","v":1},{"k":79.4,"s":"HM3","v":0},
{"k":100,"s":"HM3","v":0},{"k":126,"s":"HM3","v":1},{"k":158,"s":"HM3","v":0},{"k":200,"s":"HM3","v":1},{"k":251,"s":"HM3","v":0},{"k":316,"s":"HM3","v":1},{"k":398,"s":"HM3","v":0},{"k":501,"s":"HM3","v":0},{"k":631,"s":"HM3","v":1},{"k":794,"s":"HM3","v":0},
{"k":0.01,"s":"C1","v":0},{"k":0.0126,"s":"C1","v":0},{"k":0.0158,"s":"C1","v":0},{"k":0.02,"s":"C1","v":0},{"k":0.0251,"s":"C1","v":0},{"k":0.0316,"s":"C1","v":1},{"k":0.0398,"s":"C1","v":1},{"k":0.0501,"s":"C1","v":2},{"k":0.0631,"s":"C1","v":1},{"k":0.0794,"s":"C1","v":3},
{"k":0.1,"s":"C1","v":3},{"k":0.126,"s":"C1","v":81},{"k":0.158,"s":"C1","v":6},{"k":0.2,"s":"C1","v":9},{"k":0.251,"s":"C1","v":13},{"k":0.316,"s":"C1","v":8},{"k":0.398,"s":"C1","v":8},{"k":0.501,"s":"C1","v":4},{"k":0.631,"s":"C1","v":5},{"k":0.794,"s":"C1","v":3},
{"k":1,"s":"C1","v":4},{"k":1.26,"s":"C1","v":2},{"k":1.58,"s":"C1","v":2},{"k":2,"s":"C1","v":1},{"k":2.51,"s":"C1","v":2},{"k":3.16,"s":"C1","v":1},{"k":3.98,"s":"C1","v":1},{"k":5.01,"s":"C1","v":1},{"k":6.31,"s":"C1","v":1},{"k":7.94,"s":"C1","v":1},
{"k":10,"s":"C1","v":0},{"k":12.6,"s":"C1","v":1},{"k":15.8,"s":"C1","v":0},{"k":20,"s":"C1","v":1},{"k":25.1,"s":"C1","v":1},{"k":31.6,"s":"C1","v":0},{"k":39.8,"s":"C1","v":0},{"k":50.1,"s":"C1","v":1},{"k":63.1,"s":"C1","v":0},{"k":79.4,"s":"C1","v":0},
{"k":100,"s":"C1","v":1},{"k":126,"s":"C1","v":0},{"k":158,"s":"C1","v":0},{"k":200,"s":"C1","v":0},{"k":251,"s":"C1","v":1},{"k":316,"s":"C1","v":0},{"k":398,"s":"C1","v":0},{"k":501,"s":"C1","v":1},{"k":631,"s":"C1","v":0},{"k":794,"s":"C1","v":0},
{"k":0.01,"s":"C2","v":0},{"k":0.0126,"s":"C2","v":0},{"k":0.0158,"s":"C2","v":0},{"k":0.02,"s":"C2","v":0},{"k":0.0251,"s":"C2","v":1},{"k":0.0316,"s":"C2","v":2},{"k":0.0398,"s":"C2","v":3},{"k":0.0501,"s":"C2","v":4},{"k":0.0631,"s":"C2","v":2},{"k":0.0794,"s":"C2","v":2},
{"k":0.1,"s":"C2","v":4},{"k":0.126,"s":"C2","v":43},{"k":0.158,"s":"C2","v":10},{"k":0.2,"s":"C2","v":15},{"k":0.251,"s":"C2","v":17},{"k":0.316,"s":"C2","v":10},{"k":0.398,"s":"C2","v":14},{"k":0.501,"s":"C2","v":6},{"k":0.631,"s":"C2","v":5},{"k":0.794,"s":"C2","v":2},
{"k":1,"s":"C2","v":6},{"k":1.26,"s":"C2","v":2},{"k":1.58,"s":"C2","v":1},{"k":2,"s":"C2","v":2},{"k":2.51,"s":"C2","v":1},{"k":3.16,"s":"C2","v":1},{"k":3.98,"s":"C2","v":2},{"k":5.01,"s":"C2","v":1},{"k":6.31,"s":"C2","v":1},{"k":7.94,"s":"C2","v":2},
{"k":10,"s":"C2","v":1},{"k":12.6,"s":"C2","v":0},{"k":15.8,"s":"C2","v":1},{"k":20,"s":"C2","v":0},{"k":25.1,"s":"C2","v":1},{"k":31.6,"s":"C2","v":1},{"k":39.8,"s":"C2","v":0},{"k":50.1,"s":"C2","v":0},{"k":63.1,"s":"C2","v":1},{"k":79.4,"s":"C2","v":0},
{"k":100,"s":"C2","v":0},{"k":126,"s":"C2","v":1},{"k":158,"s":"C2","v":0},{"k":200,"s":"C2","v":0},{"k":251,"s":"C2","v":0},{"k":316,"s":"C2","v":1},{"k":398,"s":"C2","v":0},{"k":501,"s":"C2","v":0},{"k":631,"s":"C2","v":0},{"k":794,"s":"C2","v":1},
{"k":0.01,"s":"C3","v":0},{"k":0.0126,"s":"C3","v":0},{"k":0.0158,"s":"C3","v":0},{"k":0.02,"s":"C3","v":0},{"k":0.0251,"s":"C3","v":0},{"k":0.0316,"s":"C3","v":1},{"k":0.0398,"s":"C3","v":2},{"k":0.0501,"s":"C3","v":4.5},{"k":0.0631,"s":"C3","v":3},{"k":0.0794,"s":"C3","v":3},
{"k":0.1,"s":"C3","v":5},{"k":0.126,"s":"C3","v":67},{"k":0.158,"s":"C3","v":8},{"k":0.2,"s":"C3","v":15},{"k":0.251,"s":"C3","v":13},{"k":0.316,"s":"C3","v":10},{"k":0.398,"s":"C3","v":12},{"k":0.501,"s":"C3","v":5},{"k":0.631,"s":"C3","v":5},{"k":0.794,"s":"C3","v":3},
{"k":1,"s":"C3","v":3},{"k":1.26,"s":"C3","v":1},{"k":1.58,"s":"C3","v":2},{"k":2,"s":"C3","v":1},{"k":2.51,"s":"C3","v":2},{"k":3.16,"s":"C3","v":1},{"k":3.98,"s":"C3","v":1},{"k":5.01,"s":"C3","v":1},{"k":6.31,"s":"C3","v":2},{"k":7.94,"s":"C3","v":3},
{"k":10,"s":"C3","v":1},{"k":12.6,"s":"C3","v":1},{"k":15.8,"s":"C3","v":0},{"k":20,"s":"C3","v":1},{"k":25.1,"s":"C3","v":0},{"k":31.6,"s":"C3","v":1},{"k":39.8,"s":"C3","v":3},{"k":50.1,"s":"C3","v":1},{"k":63.1,"s":"C3","v":0},{"k":79.4,"s":"C3","v":1},
{"k":100,"s":"C3","v":0},{"k":126,"s":"C3","v":1},{"k":158,"s":"C3","v":1},{"k":200,"s":"C3","v":1},{"k":251,"s":"C3","v":0},{"k":316,"s":"C3","v":1},{"k":398,"s":"C3","v":0},{"k":501,"s":"C3","v":0},{"k":631,"s":"C3","v":1},{"k":794,"s":"C3","v":0}
]},
"encoding":{"x":{"field":"k","type":"quantitative","scale":{"type":"log","domain":[0.00546,1199],"nice":false},"axis":{"values":[0.01,0.1,1,10,100,1000],"format":"~g","domainColor":"#333333","tickColor":"#333333","tickSize":2.5,"labelFont":"Liberation Sans","labelFontSize":8.5,"labelColor":"#4D4D4D","labelPadding":1.5,"labelFlush":false,"labelOverlap":false,"title":"Size (kb)","titleFont":"Liberation Sans","titleFontSize":12,"titleFontWeight":"normal","titleColor":"#1A1A1A","titlePadding":1,"titleX":106.7}},
"y":{"field":"v","type":"quantitative","scale":{"domain":[-7.4,143.15],"nice":false,"zero":false},"axis":{"values":[0,20,40,60,80,100,120,140],"format":"d","domainColor":"#333333","tickColor":"#333333","tickSize":2.5,"labelFont":"Liberation Sans","labelFontSize":8,"labelColor":"#4D4D4D","labelPadding":1.5,"labelOverlap":false,"title":"Detected eccDNAs (#)","titleFont":"Liberation Sans","titleFontSize":15,"titleFontWeight":"normal","titleColor":"#1A1A1A","titlePadding":1}}},
"layer":[
{"transform":[{"filter":{"field":"s","oneOf":["HM1","HM2","HM3"]}},{"aggregate":[{"op":"median","field":"v","as":"v"}],"groupby":["k"]}],
"mark":{"type":"line","color":"#6b6b6b","strokeWidth":1}},
{"mark":{"type":"point","filled":true,"size":18,"strokeWidth":1,"opacity":1},
"encoding":{
"fill":{"field":"s","type":"nominal","scale":{"domain":["HM1","HM2","HM3","C1","C2","C3","Median"],"range":["#3D8FD1","#F6A83A","#D62F1F","#8AA53F","#BD97D9","#7E3595","#FFFFFF"]},"legend":{"title":null,"orient":"none","legendX":164,"legendY":2.4,"padding":0,"symbolSize":16,"symbolStrokeWidth":1,"symbolOpacity":1,"labelFont":"Liberation Sans","labelFontSize":8.5,"labelColor":"#333333","labelOffset":7.7,"rowPadding":4.7}},
"stroke":{"field":"s","type":"nominal","scale":{"domain":["HM1","HM2","HM3","C1","C2","C3","Median"],"range":["#9BC8EC","#FBD08A","#52AC3C","#E7A056","#F2B05A","#A15DB8","#666666"]},"legend":{"title":null,"orient":"none","legendX":164,"legendY":2.4,"padding":0,"symbolSize":16,"symbolStrokeWidth":1,"symbolOpacity":1,"labelFont":"Liberation Sans","labelFontSize":8.5,"labelColor":"#333333","labelOffset":7.7,"rowPadding":4.7}},
"shape":{"field":"s","type":"nominal","scale":{"domain":["HM1","HM2","HM3","C1","C2","C3","Median"],"range":["circle","circle","circle","circle","circle","circle","M-2,0L-0.85,0M0.85,0L2,0M0.85,0A0.85,0.85 0 1 1 -0.85,0A0.85,0.85 0 1 1 0.85,0"]},"legend":{"title":null,"orient":"none","legendX":164,"legendY":2.4,"padding":0,"symbolSize":16,"symbolStrokeWidth":1,"symbolOpacity":1,"labelFont":"Liberation Sans","labelFontSize":8.5,"labelColor":"#333333","labelOffset":7.7,"rowPadding":4.7}}}}
]
}
]
}
